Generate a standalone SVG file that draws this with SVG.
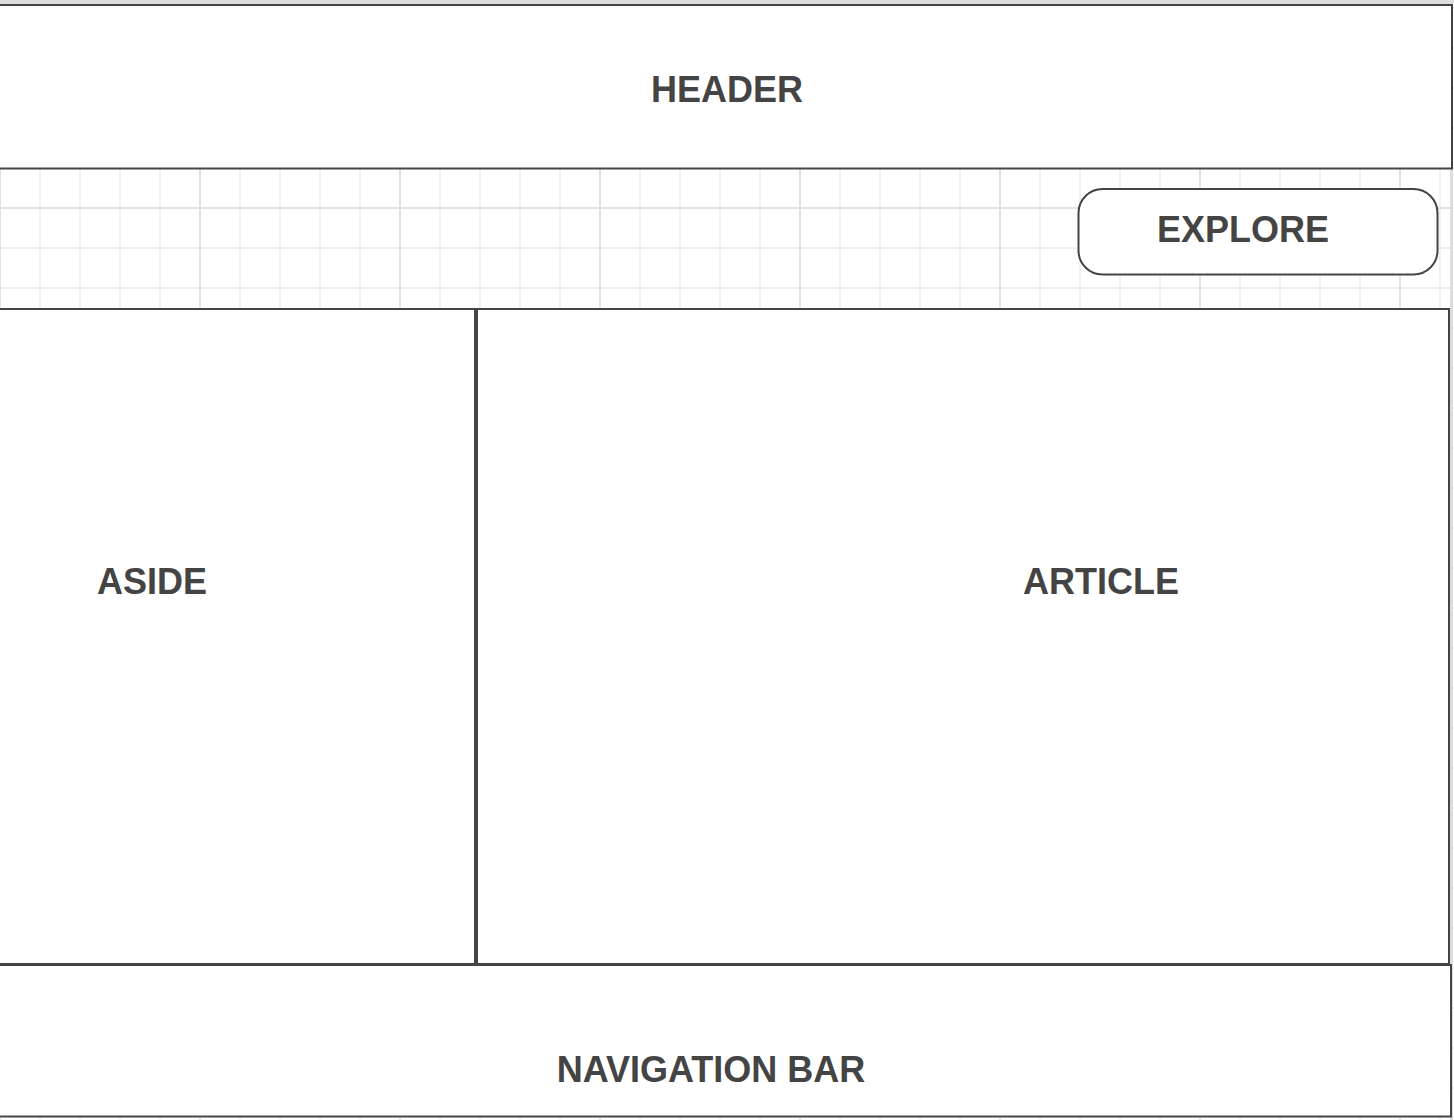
<svg xmlns="http://www.w3.org/2000/svg" width="1454" height="1120" viewBox="0 0 1454 1120">
  <style>
    .box { fill: #ffffff; stroke: #444444; stroke-width: 2; }
    .lbl { font-family: "Liberation Sans", Arial, Helvetica, sans-serif; font-weight: bold; font-size: 36px; fill: #444444; text-anchor: middle; }
  </style>
  <defs>
    <pattern id="minor" patternUnits="userSpaceOnUse" x="39" y="7" width="40" height="40">
      <path d="M1 0 V40 M0 1 H40" stroke="#ebebeb" stroke-width="1.5" fill="none"/>
    </pattern>
    <pattern id="major" patternUnits="userSpaceOnUse" x="199" y="7" width="200" height="200">
      <path d="M1 0 V200 M0 1 H200" stroke="#e0e0e0" stroke-width="1.5" fill="none"/>
    </pattern>
  </defs>
  <g id="background">
    <rect x="0" y="0" width="1454" height="1120" fill="#ffffff"/>
    <rect x="0" y="0" width="1454" height="1120" fill="url(#minor)"/>
    <rect x="0" y="0" width="1454" height="1120" fill="url(#major)"/>
    <rect x="0" y="0" width="1454" height="4" fill="#dddddd"/>
    <rect x="1450" y="0" width="3" height="1120" fill="#dddddd"/>
  </g>
  <g id="connectors"/>
  <g id="header">
    <rect class="box" x="-5" y="5" width="1457" height="163.5"/>
    <text class="lbl" x="727" y="101.5">HEADER</text>
  </g>
  <g id="explore">
    <rect class="box" x="1078.5" y="189" width="359" height="85.5" rx="24" ry="24"/>
    <text class="lbl" x="1243" y="242">EXPLORE</text>
  </g>
  <g id="aside">
    <rect class="box" x="-5" y="309" width="480" height="655"/>
    <text class="lbl" x="152" y="594">ASIDE</text>
  </g>
  <g id="article">
    <rect class="box" x="477" y="309" width="972" height="655"/>
    <text class="lbl" x="1101" y="594">ARTICLE</text>
  </g>
  <g id="navigation-bar">
    <rect class="box" x="-5" y="965" width="1456" height="151.5"/>
    <text class="lbl" x="711" y="1082">NAVIGATION BAR</text>
  </g>
</svg>
